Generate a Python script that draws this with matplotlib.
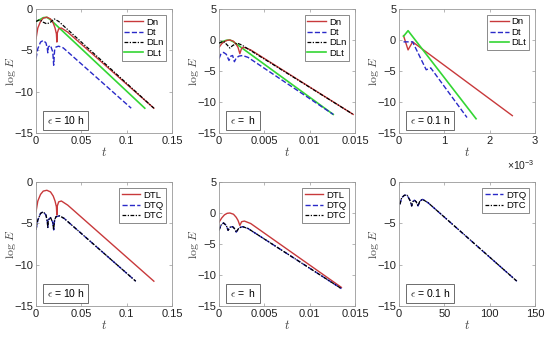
import matplotlib
matplotlib.use('Agg')
import matplotlib.pyplot as plt

plt.rcParams['font.family'] = ['Liberation Sans', 'DejaVu Sans']
plt.rcParams['mathtext.fontset'] = 'cm'

RED = '#c8393b'
BLUE = '#2a2ac8'
GREEN = '#33d633'
BLACK = '#000000'
DASHDOT = (0, (3, 1.2, 1, 1.2))

# ---- panel 1: eps = 10 h ----
p1_dn_t = [0, 0.002, 0.005, 0.008, 0.012, 0.016, 0.019, 0.021, 0.0225, 0.023, 0.0235, 0.025, 0.028, 0.035, 0.13]
p1_dn_y = [-3.6, -2.3, -1.5, -1.1, -1.0, -1.2, -1.7, -2.3, -3.0, -4.0, -2.9, -2.4, -2.3, -2.8, -12.0]
p1_dt_t = [0, 0.002, 0.005, 0.008, 0.011, 0.0125, 0.013, 0.0135, 0.016, 0.0185, 0.0195, 0.0205, 0.022, 0.025, 0.03, 0.105]
p1_dt_y = [-6.0, -4.8, -4.0, -3.8, -4.1, -4.8, -5.3, -4.6, -4.4, -5.2, -6.8, -5.0, -4.6, -4.5, -4.7, -12.0]
p1_dln_t = [0, 0.004, 0.008, 0.012, 0.016, 0.02, 0.025, 0.13]
p1_dln_y = [-1.5, -1.3, -1.6, -1.8, -1.6, -1.2, -1.5, -12.0]
p1_dlt_t = [0, 0.004, 0.008, 0.012, 0.016, 0.12]
p1_dlt_y = [-1.5, -1.3, -1.05, -1.0, -1.3, -12.0]

# ---- panel 2: eps = h ----
p2_dn_t = [0, 0.0003, 0.0006, 0.0009, 0.0012, 0.0016, 0.0019, 0.0021, 0.0023, 0.0025, 0.0028, 0.0035, 0.0148]
p2_dn_y = [-1.2, -0.6, -0.25, -0.05, 0.0, -0.2, -0.7, -1.2, -2.2, -1.3, -1.2, -1.6, -12.0]
p2_dt_t = [0, 0.0002, 0.0005, 0.0008, 0.0011, 0.0013, 0.0015, 0.0017, 0.0019, 0.0022, 0.0026, 0.0032, 0.0126]
p2_dt_y = [-3.0, -2.3, -2.0, -2.3, -3.3, -2.6, -2.5, -3.5, -2.9, -2.6, -2.5, -2.8, -12.0]
p2_dln_t = [0, 0.0005, 0.0009, 0.0012, 0.0015, 0.002, 0.0025, 0.0148]
p2_dln_y = [-0.5, -0.2, -0.8, -1.3, -0.9, -0.5, -0.8, -12.0]
p2_dlt_t = [0, 0.0004, 0.0008, 0.0012, 0.0016, 0.0126]
p2_dlt_y = [-0.5, -0.25, -0.05, 0.0, -0.3, -12.0]

# ---- panel 3: eps = 0.1 h ----
p3_dn_t = [0.1e-3, 0.2e-3, 0.3e-3, 2.5e-3]
p3_dn_y = [0.7, -1.6, -0.3, -12.2]
p3_dt_t = [0.1e-3, 0.2e-3, 0.3e-3, 0.6e-3, 0.7e-3, 1.5e-3]
p3_dt_y = [-0.3, -0.3, -0.3, -4.8, -4.5, -12.5]
p3_dlt_t = [0.1e-3, 0.2e-3, 1.7e-3]
p3_dlt_y = [0.6, 1.5, -12.7]

# ---- panel 4: eps = 10 h ----
p4_dtl_t = p1_dn_t
p4_dtl_y = p1_dn_y
p4_dtc_t = [0, 0.002, 0.005, 0.008, 0.011, 0.0125, 0.013, 0.0135, 0.016, 0.0185, 0.0195, 0.0205, 0.022, 0.026, 0.031, 0.11]
p4_dtc_y = [-5.8, -4.6, -3.8, -3.6, -4.0, -4.8, -5.5, -4.6, -4.3, -4.9, -5.8, -4.6, -4.2, -4.1, -4.4, -12.0]

# ---- panel 5: eps = h ----
p5_dtl_t = [0, 0.0003, 0.0006, 0.0009, 0.0012, 0.0016, 0.0019, 0.0021, 0.0023, 0.0025, 0.0028, 0.0035, 0.0135]
p5_dtl_y = [-1.5, -0.8, -0.3, -0.05, 0.0, -0.2, -0.7, -1.2, -2.0, -1.4, -1.3, -1.7, -12.0]
p5_dtc_t = [0, 0.0002, 0.0005, 0.0008, 0.001, 0.0012, 0.0015, 0.0017, 0.0019, 0.0022, 0.0026, 0.0032, 0.0135]
p5_dtc_y = [-2.8, -2.0, -1.6, -2.0, -2.8, -2.3, -2.2, -2.5, -3.1, -2.4, -2.2, -2.5, -12.2]

# ---- panel 6: eps = 0.1 h ----
p6_t = [1, 3, 6, 9, 12, 14, 15, 17, 19, 21, 23, 26, 32, 130]
p6_y = [-2.7, -1.9, -1.6, -1.6, -2.2, -2.9, -2.4, -2.2, -2.4, -2.9, -2.3, -2.1, -2.5, -12.0]

lefts = [36 / 550, 219 / 550, 399 / 550]
width = 136 / 550
bottoms = [1 - 133 / 339, 1 - 306 / 339]
height = 124 / 339

fig = plt.figure(figsize=(5.5, 3.39), dpi=100)


def make_axes(row, col, xlim, ylim, xticks, yticks, label):
    ax = fig.add_axes([lefts[col], bottoms[row], width, height])
    ax.set_xlim(xlim)
    ax.set_ylim(ylim)
    ax.set_xticks(xticks)
    ax.set_yticks(yticks)
    ax.tick_params(direction='in', length=2, width=0.5, labelsize=8,
                   top=True, right=True, colors='#999999', labelcolor='#222222', pad=2)
    for s in ax.spines.values():
        s.set_color('#999999')
        s.set_linewidth(0.6)
    ax.set_xlabel('$t$', fontsize=9, labelpad=0, color='#444444')
    ax.set_ylabel(r'$\log\,E$', fontsize=8.5, color='#444444')
    ax.yaxis.set_label_coords(-0.13, 0.5)
    ax.text(0.08, 0.07, label, transform=ax.transAxes, fontsize=7.5,
            bbox=dict(boxstyle='square,pad=0.35', fc='white', ec='#555555', lw=0.6))
    return ax


def add_legend(ax, order=None):
    h, l = ax.get_legend_handles_labels()
    if order is not None:
        h = [h[i] for i in order]
        l = [l[i] for i in order]
    leg = ax.legend(h, l, loc='upper right', fontsize=6.8, handlelength=2.0, handletextpad=0.3,
                    borderpad=0.3, labelspacing=0.15, frameon=True, fancybox=False,
                    edgecolor='#555555', borderaxespad=0.6)
    leg.get_frame().set_linewidth(0.6)


# top row
ax = make_axes(0, 0, (0, 0.15), (-15, 0), [0, 0.05, 0.1, 0.15], [-15, -10, -5, 0], r'$\epsilon$ = 10 h')
ax.set_xticklabels(['0', '0.05', '0.1', '0.15'])
ax.plot(p1_dln_t, p1_dln_y, color=BLACK, ls=DASHDOT, lw=0.9, label='DLn', zorder=3)
ax.plot(p1_dlt_t, p1_dlt_y, color=GREEN, ls='-', lw=1.2, label='DLt', zorder=2)
ax.plot(p1_dn_t, p1_dn_y, color=RED, ls='-', lw=1.0, label='Dn', zorder=2)
ax.plot(p1_dt_t, p1_dt_y, color=BLUE, ls='--', lw=1.0, label='Dt', zorder=2)
add_legend(ax, [2, 3, 0, 1])

ax = make_axes(0, 1, (0, 0.015), (-15, 5), [0, 0.005, 0.01, 0.015], [-15, -10, -5, 0, 5], r'$\epsilon$ =  h')
ax.set_xticklabels(['0', '0.005', '0.01', '0.015'])
ax.plot(p2_dln_t, p2_dln_y, color=BLACK, ls=DASHDOT, lw=0.9, label='DLn', zorder=3)
ax.plot(p2_dlt_t, p2_dlt_y, color=GREEN, ls='-', lw=1.2, label='DLt', zorder=2)
ax.plot(p2_dn_t, p2_dn_y, color=RED, ls='-', lw=1.0, label='Dn', zorder=2)
ax.plot(p2_dt_t, p2_dt_y, color=BLUE, ls='--', lw=1.0, label='Dt', zorder=2)
add_legend(ax, [2, 3, 0, 1])

ax = make_axes(0, 2, (0, 3e-3), (-15, 5), [0, 1e-3, 2e-3, 3e-3], [-15, -10, -5, 0, 5], r'$\epsilon$ = 0.1 h')
ax.set_xticklabels(['0', '1', '2', '3'])
ax.text(1.0, -0.2, r'$\mathregular{\times10^{-3}}$', transform=ax.transAxes, fontsize=7.5,
        ha='right', va='top', color='#222222')
ax.plot(p3_dn_t, p3_dn_y, color=RED, ls='-', lw=1.0, label='Dn')
ax.plot(p3_dt_t, p3_dt_y, color=BLUE, ls='--', lw=1.0, label='Dt')
ax.plot(p3_dlt_t, p3_dlt_y, color=GREEN, ls='-', lw=1.2, label='DLt')
add_legend(ax)

# bottom row
ax = make_axes(1, 0, (0, 0.15), (-15, 0), [0, 0.05, 0.1, 0.15], [-15, -10, -5, 0], r'$\epsilon$ = 10 h')
ax.set_xticklabels(['0', '0.05', '0.1', '0.15'])
ax.plot(p4_dtl_t, p4_dtl_y, color=RED, ls='-', lw=1.0, label='DTL')
ax.plot(p4_dtc_t, p4_dtc_y, color=BLUE, ls='--', lw=1.0, label='DTQ')
ax.plot(p4_dtc_t, p4_dtc_y, color=BLACK, ls=DASHDOT, lw=0.9, label='DTC')
add_legend(ax)

ax = make_axes(1, 1, (0, 0.015), (-15, 5), [0, 0.005, 0.01, 0.015], [-15, -10, -5, 0, 5], r'$\epsilon$ =  h')
ax.set_xticklabels(['0', '0.005', '0.01', '0.015'])
ax.plot(p5_dtl_t, p5_dtl_y, color=RED, ls='-', lw=1.0, label='DTL')
ax.plot(p5_dtc_t, p5_dtc_y, color=BLUE, ls='--', lw=1.0, label='DTQ')
ax.plot(p5_dtc_t, p5_dtc_y, color=BLACK, ls=DASHDOT, lw=0.9, label='DTC')
add_legend(ax)

ax = make_axes(1, 2, (0, 150), (-15, 0), [0, 50, 100, 150], [-15, -10, -5, 0], r'$\epsilon$ = 0.1 h')
ax.plot(p6_t, p6_y, color=BLUE, ls='--', lw=1.0, label='DTQ')
ax.plot(p6_t, p6_y, color=BLACK, ls=DASHDOT, lw=0.9, label='DTC')
add_legend(ax)

fig.savefig('out.png', dpi=100)
